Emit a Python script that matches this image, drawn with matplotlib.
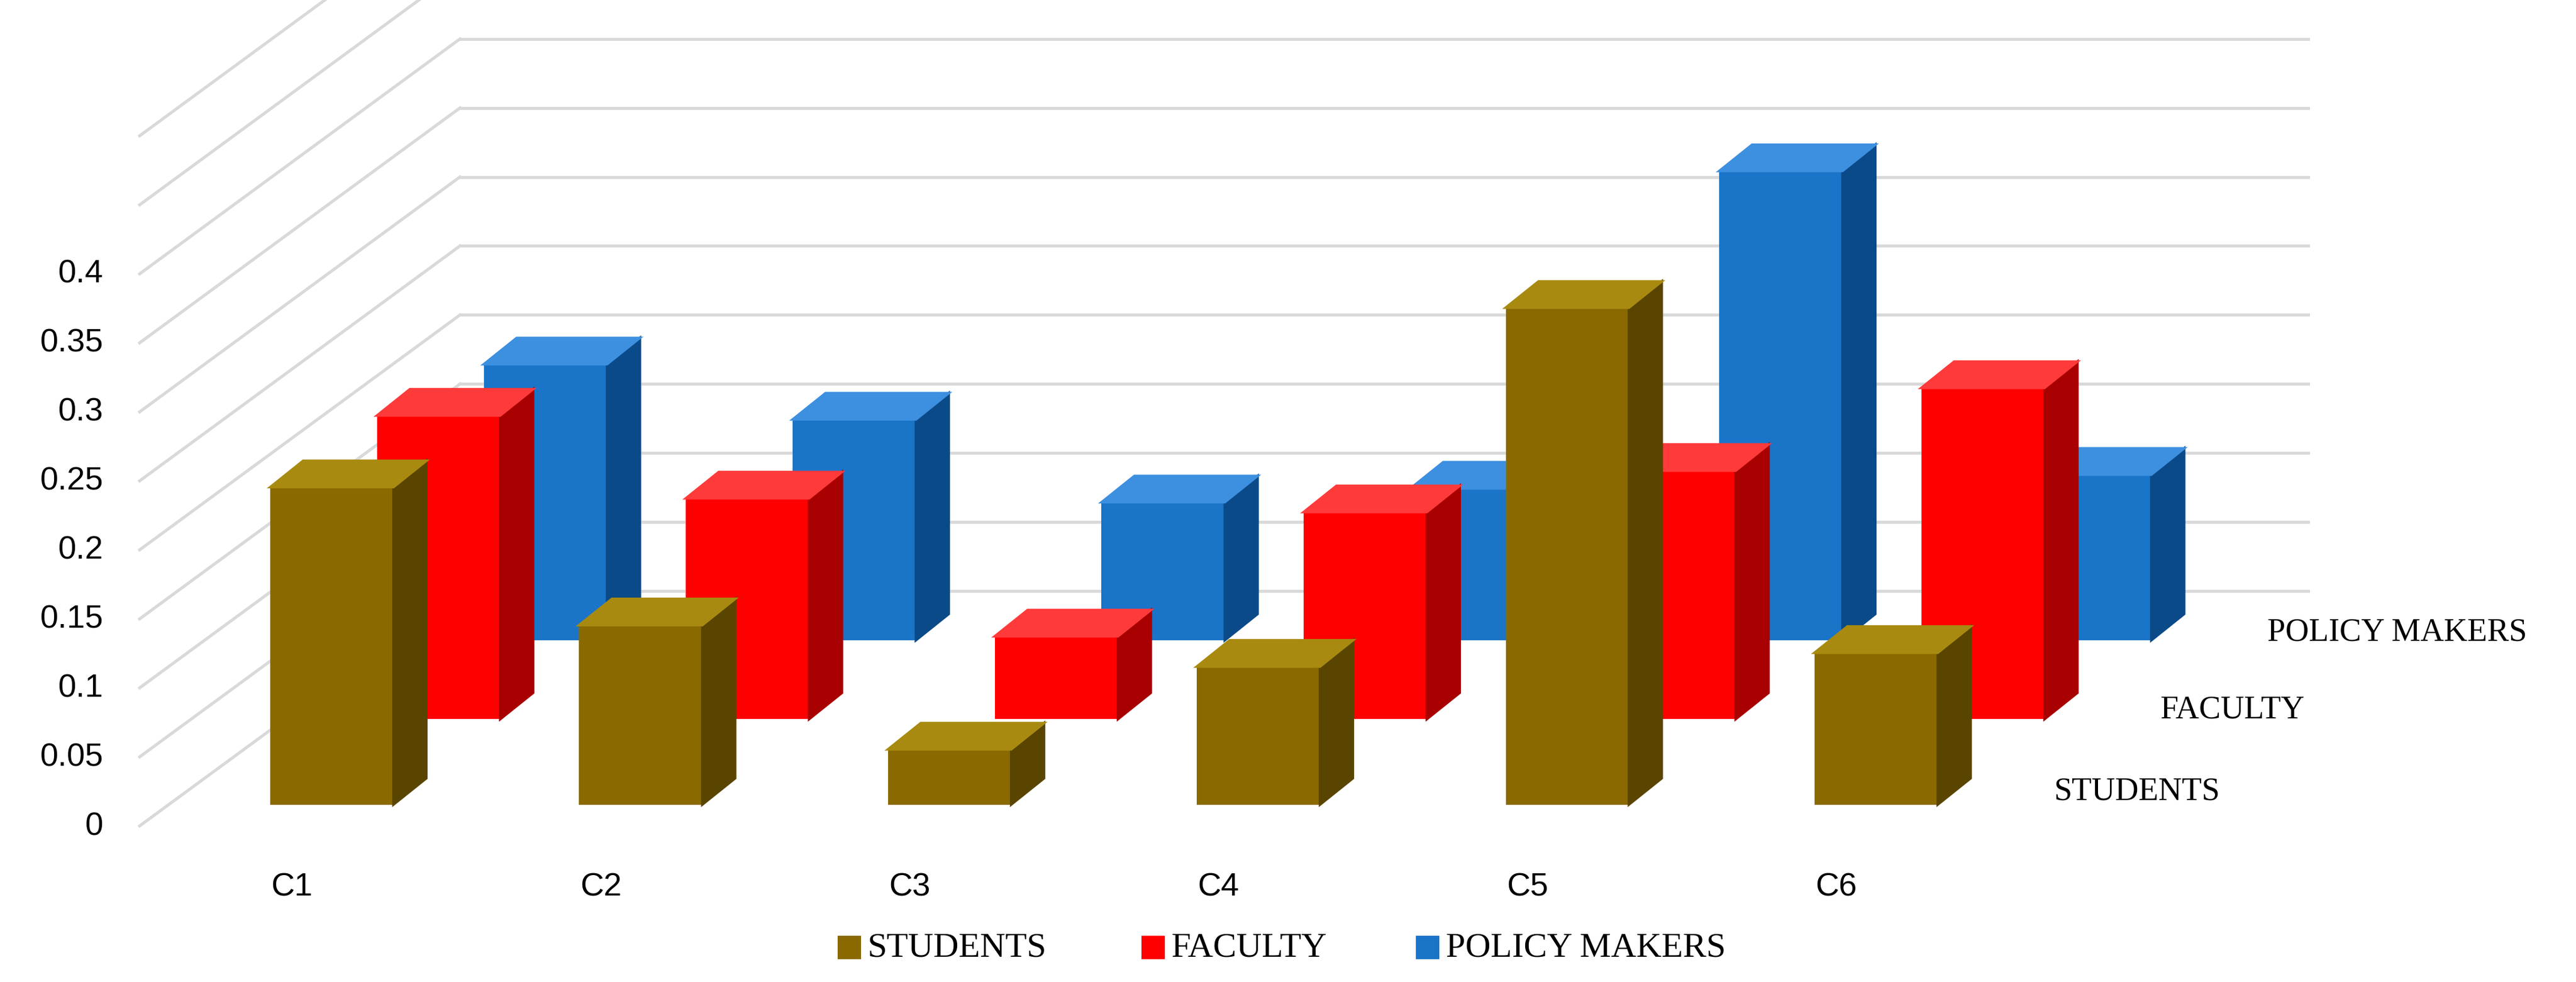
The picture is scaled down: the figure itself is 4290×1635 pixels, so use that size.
import matplotlib
matplotlib.use('Agg')
import matplotlib.pyplot as plt

categories = ['C1', 'C2', 'C3', 'C4', 'C5', 'C6']
series = ['STUDENTS', 'FACULTY', 'POLICY MAKERS']
students = [0.23, 0.13, 0.04, 0.10, 0.36, 0.11]
faculty = [0.22, 0.16, 0.06, 0.15, 0.18, 0.24]
policy = [0.20, 0.16, 0.10, 0.11, 0.34, 0.12]
yticks = [0, 0.05, 0.1, 0.15, 0.2, 0.25, 0.3, 0.35, 0.4]

# colours: front, side, top
cols = {
    'STUDENTS': ('#8a6a00', '#5a4500', '#a88a10'),
    'FACULTY': ('#ff0000', '#a80000', '#ff3a3a'),
    'POLICY MAKERS': ('#1a74c8', '#0b4a88', '#3d8fe0'),
}

PX = 188.0   # pixels per category (reference layout at 1568 px width)
PY = 840.0   # pixels per unit value
def dx(p): return p / PX
def dy(p): return p / PY

fig = plt.figure(figsize=(14.3, 5.453), dpi=300)
ax = fig.add_axes([0, 0, 1, 1])
ax.set_xlim(-202 / PX, (1568 - 202) / PX)
ax.set_ylim(-(598 - 503) / PY, 503 / PY)
ax.axis('off')

# back wall grid and left diagonal grid
wall_dx, wall_dy = dx(195), dy(143)
x_left = -117 / PX
x_right = (1405 - 202) / PX
for v in yticks:
    ax.plot([x_left, x_left + wall_dx], [v, v + wall_dy], color='#d9d9d9', lw=1.2, zorder=0)
    ax.plot([x_left + wall_dx, x_right], [v + wall_dy, v + wall_dy], color='#d9d9d9', lw=1.2, zorder=0)
    ax.text(x_left - dx(22), v, f'{v:g}', ha='right', va='center', fontsize=13, family='Liberation Sans')
for extra in [0.45, 0.5]:
    ax.plot([x_left, x_left + wall_dx], [extra, extra + wall_dy], color='#d9d9d9', lw=1.2, zorder=0)

w = dx(75)
ddx, ddy = dx(20), dy(16)
rows = [('POLICY MAKERS', policy, dx(130), dy(113)),
        ('FACULTY', faculty, dx(65), dy(65)),
        ('STUDENTS', students, 0.0, dy(13))]
for name, vals, ox, oy in rows:
    front, side, top = cols[name]
    for i, v in enumerate(vals):
        x0 = i + ox - w / 2
        ax.bar(x0, v, width=w, bottom=oy, align='edge', color=front, zorder=2)
        ax.fill([x0 + w, x0 + w + ddx, x0 + w + ddx, x0 + w],
                [oy, oy + ddy, oy + v + ddy, oy + v], color=side, zorder=2)
        ax.fill([x0, x0 + ddx, x0 + w + ddx, x0 + w],
                [oy + v, oy + v + ddy, oy + v + ddy, oy + v], color=top, zorder=2)

# series labels on the right
ax.text(dx(1380 - 202), dy(503 - 385), 'POLICY MAKERS', fontsize=13, family='Liberation Serif', va='center')
ax.text(dx(1315 - 202), dy(503 - 432), 'FACULTY', fontsize=13, family='Liberation Serif', va='center')
ax.text(dx(1250 - 202), dy(503 - 482), 'STUDENTS', fontsize=13, family='Liberation Serif', va='center')

for i, c in enumerate(categories):
    ax.text(i - dx(37), dy(503 - 540), c, fontsize=13, family='Liberation Sans', va='center')

# legend
lx = [dx(510 - 202), dx(695 - 202), dx(862 - 202)]
for (name, _, _, _), x in zip(rows[::-1], lx):
    ax.bar(x, dy(14), width=dx(14), bottom=dy(503 - 584), align='edge', color=cols[name][0])
    ax.text(x + dx(18), dy(503 - 577), name, fontsize=14, family='Liberation Serif', va='center')

fig.savefig('out.png', dpi=300)
